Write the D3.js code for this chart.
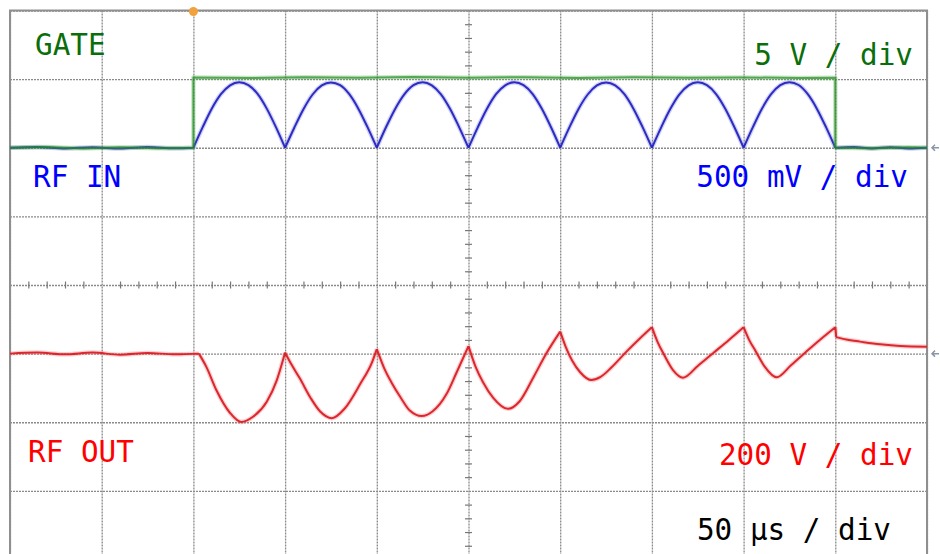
<!DOCTYPE html>
<html>
<head>
<meta charset="utf-8">
<script src="https://cdn.jsdelivr.net/npm/d3@7"></script>
<style>
  body { margin: 0; background: #fff; }
  svg { display: block; }
  .lbl { font-family: "DejaVu Sans Mono", monospace; font-size: 29.3px; }
</style>
</head>
<body>
<svg id="scope"></svg>
<script>
// time base in µs, 50 µs / div, 10 div
var time_ticks = [0, 50, 100, 150, 200, 250, 300, 350, 400, 450, 500];
var div_ticks = [-4, -3, -2, -1, 0, 1, 2, 3, 4];

// GATE [µs, V]
var gate_data = [
  [0, 0], [20, 0.05], [40, -0.05], [60, 0.04], [80, -0.04], [100, 0],
  [100, 5.12], [130, 5.08], [160, 5.14], [190, 5.1], [220, 5.15], [250, 5.1],
  [280, 5.14], [310, 5.09], [340, 5.13], [370, 5.1], [400, 5.12], [430, 5.09], [450, 5.1],
  [450, 0], [470, -0.04], [490, 0.03], [500, 0]
];

// RF IN [µs, mV]
var rfin_data = [
  [0, 0], [15, 6], [30, -5], [45, 4], [60, -6], [75, 5], [90, -4], [100, 0],
  [105, 148], [110, 284], [115, 390], [120, 455], [125, 477], [130, 457], [135, 392], [140, 285], [145, 150], [150, 0],
  [155, 146], [160, 281], [165, 388], [170, 454], [175, 476], [180, 456], [185, 390], [190, 283], [195, 148], [200, 0],
  [205, 149], [210, 283], [215, 389], [220, 456], [225, 478], [230, 455], [235, 389], [240, 282], [245, 147], [250, 0],
  [255, 147], [260, 282], [265, 390], [270, 455], [275, 477], [280, 456], [285, 391], [290, 284], [295, 149], [300, 0],
  [305, 148], [310, 283], [315, 388], [320, 454], [325, 476], [330, 455], [335, 390], [340, 283], [345, 148], [350, 0],
  [355, 147], [360, 282], [365, 389], [370, 455], [375, 477], [380, 456], [385, 391], [390, 284], [395, 149], [400, 0],
  [405, 148], [410, 284], [415, 390], [420, 456], [425, 478], [430, 457], [435, 390], [440, 283], [445, 148], [450, 0],
  [460, 5], [470, -5], [480, 4], [490, -5], [500, 0]
];
var rfin_cusps = [100, 150, 200, 250, 300, 350, 400, 450];

// RF OUT [µs, V]
var rfout_data = [
  [0, 0], [15, 3], [30, -2], [45, 3], [60, -3], [75, 2], [90, -2], [103, 0],
  [107, -38], [112.5, -106], [120, -173], [126, -199], [132.5, -184], [140, -140], [145.5, -77], [150, 3],
  [153.5, -32], [158, -72], [164, -130], [169, -168], [175.5, -188], [182.5, -160], [191, -88], [197.5, -24], [200, 13],
  [204, -42], [208, -84], [213, -128], [218, -166], [224.5, -182], [230.5, -168], [238, -118], [243.5, -55], [250, 22],
  [254, -40], [258, -84], [263.5, -129], [271.5, -161], [278, -138], [285.5, -68], [292.5, 1], [300, 64],
  [303, 20], [306.5, -20], [311, -55], [317, -77], [322, -68], [328, -40], [336, 5], [343, 42], [350, 77],
  [353, 35], [356.5, -2], [361.5, -48], [367, -70], [375, -36], [383.5, 2], [392, 40], [400, 77],
  [403, 40], [406.5, 8], [411.5, -38], [418, -69], [426, -33], [434, 5], [442, 42], [450, 77],
  [450.5, 48], [456, 41], [463.5, 35], [474.5, 27], [485.5, 22], [500, 20]
];
var rfout_cusps = [103, 150, 200, 250, 300, 350, 400, 450, 450.5];

var channel_labels = ["GATE", "RF IN", "RF OUT"];
var scale_labels = ["5 V / div", "500 mV / div", "200 V / div"];
var time_label = "50 µs / div";

function init(){
    var W = 940, H = 554;
    var svg = d3.select("#scope").attr("width", W).attr("height", H);

    var x = d3.scaleLinear().domain([0, 500]).range([10, 927]);
    var ydiv = d3.scaleLinear().domain([-4, 4]).range([559.5, 10.5]);

    // channel scales: offset in div, units per div
    function chScale(offset, perdiv){
        return d3.scaleLinear()
            .domain([(-4 - offset) * perdiv, (4 - offset) * perdiv])
            .range([559.5, 10.5]);
    }
    var y_gate = chScale(2, 5);
    var y_rfin = chScale(2, 500);
    var y_rfout = chScale(-1, 200);

    svg.append("rect").attr("width", W).attr("height", H).attr("fill", "#fff");

    /* grid */
    var gx = svg.append("g").attr("transform", "translate(0," + ydiv(4) + ")")
        .call(d3.axisTop(x).tickValues(time_ticks).tickSize(-(ydiv(-4) - ydiv(4))).tickFormat(""));
    var gy = svg.append("g").attr("transform", "translate(" + x(0) + ",0)")
        .call(d3.axisLeft(ydiv).tickValues(div_ticks).tickSize(-(x(500) - x(0))).tickFormat(""));
    [gx, gy].forEach(function(g){
        g.select(".domain").remove();
        g.selectAll("line").attr("stroke", "#8a8a8a").attr("stroke-width", 1.3).attr("stroke-dasharray", "2,1");
    });
    // solid frame
    svg.append("rect")
        .attr("x", x(0)).attr("y", ydiv(4))
        .attr("width", x(500) - x(0)).attr("height", ydiv(-4) - ydiv(4))
        .attr("fill", "none").attr("stroke", "#8f8f8f").attr("stroke-width", 2);

    // minor ticks on center lines
    var minor_t = d3.range(0, 501, 10).filter(function(d){ return d % 50 != 0; });
    var minor_d = d3.range(-4, 4.01, 0.2).filter(function(d){ return Math.abs(d - Math.round(d)) > 0.01; });
    svg.append("g").attr("transform", "translate(0," + (ydiv(0) - 3.5) + ")")
        .call(d3.axisBottom(x).tickValues(minor_t).tickSize(7).tickFormat(""))
        .call(function(g){ g.select(".domain").remove(); })
        .selectAll("line").attr("stroke", "#777").attr("stroke-width", 1.2);
    svg.append("g").attr("transform", "translate(" + (x(250) + 3.5) + ",0)")
        .call(d3.axisLeft(ydiv).tickValues(minor_d).tickSize(7).tickFormat(""))
        .call(function(g){ g.select(".domain").remove(); })
        .selectAll("line").attr("stroke", "#777").attr("stroke-width", 1.2);

    /* traces */
    // cut a trace at its cusps so the smoothing keeps the sharp corners
    function split(data, cusps){
        var segs = [], cur = [];
        data.forEach(function(d){
            cur.push(d);
            if(cusps.indexOf(d[0]) >= 0 && cur.length > 1){
                segs.push(cur);
                cur = [d];
            }
        });
        if(cur.length > 1) segs.push(cur);
        return segs;
    }
    function trace(segs, ys, color, core, curve, op){
        var line = d3.line().curve(curve)
            .x(function(d){ return x(d[0]); }).y(function(d){ return ys(d[1]); });
        var d_all = segs.map(line).join("");
        svg.append("path").attr("d", d_all)
            .attr("fill", "none").attr("stroke", color).attr("stroke-opacity", 0.3)
            .attr("stroke-width", 4.5).attr("stroke-linejoin", "round");
        svg.append("path").attr("d", d_all)
            .attr("fill", "none").attr("stroke", core).attr("stroke-opacity", op)
            .attr("stroke-width", 2).attr("stroke-linejoin", "round");
    }
    trace(split(rfin_data, rfin_cusps), y_rfin, "#6a6ae0", "#2323c0", d3.curveMonotoneX, 0.95);
    trace([gate_data], y_gate, "#4caf3a", "#1f8a25", d3.curveLinear, 0.7);
    trace(split(rfout_data, rfout_cusps), y_rfout, "#ff6060", "#d81f27", d3.curveMonotoneX, 0.95);

    // trigger marker
    svg.append("circle").attr("cx", x(100)).attr("cy", ydiv(4) + 1).attr("r", 4.5).attr("fill", "#f2a23c");
    // ground markers on the right
    [y_rfin(0), y_rfout(0)].forEach(function(yy){
        svg.append("path")
            .attr("d", "M" + (x(500) + 12) + "," + yy + "H" + (x(500) + 5) + "M" + (x(500) + 8) + "," + (yy - 3) + "L" + (x(500) + 5) + "," + yy + "L" + (x(500) + 8) + "," + (yy + 3))
            .attr("fill", "none").attr("stroke", "#8896a8").attr("stroke-width", 1.5);
    });

    /* labels */
    var lbl_left = [
        {t: channel_labels[0], x: 35, y: 55, c: "#0a6e0a"},
        {t: channel_labels[1], x: 33, y: 187, c: "#0000ff"},
        {t: channel_labels[2], x: 28, y: 462, c: "#ff0000"}
    ];
    var lbl_right = [
        {t: scale_labels[0], x: 913, y: 65, c: "#0a6e0a"},
        {t: scale_labels[1], x: 908, y: 187, c: "#0000ff"},
        {t: scale_labels[2], x: 913, y: 465, c: "#ff0000"},
        {t: time_label, x: 891, y: 540, c: "#000"}
    ];
    svg.selectAll("text.l").data(lbl_left).enter().append("text")
        .attr("class", "lbl l").attr("x", function(d){ return d.x; }).attr("y", function(d){ return d.y; })
        .attr("fill", function(d){ return d.c; }).text(function(d){ return d.t; });
    svg.selectAll("text.r").data(lbl_right).enter().append("text")
        .attr("class", "lbl r").attr("text-anchor", "end")
        .attr("x", function(d){ return d.x; }).attr("y", function(d){ return d.y; })
        .attr("fill", function(d){ return d.c; }).text(function(d){ return d.t; });
}

init();
</script>
</body>
</html>
